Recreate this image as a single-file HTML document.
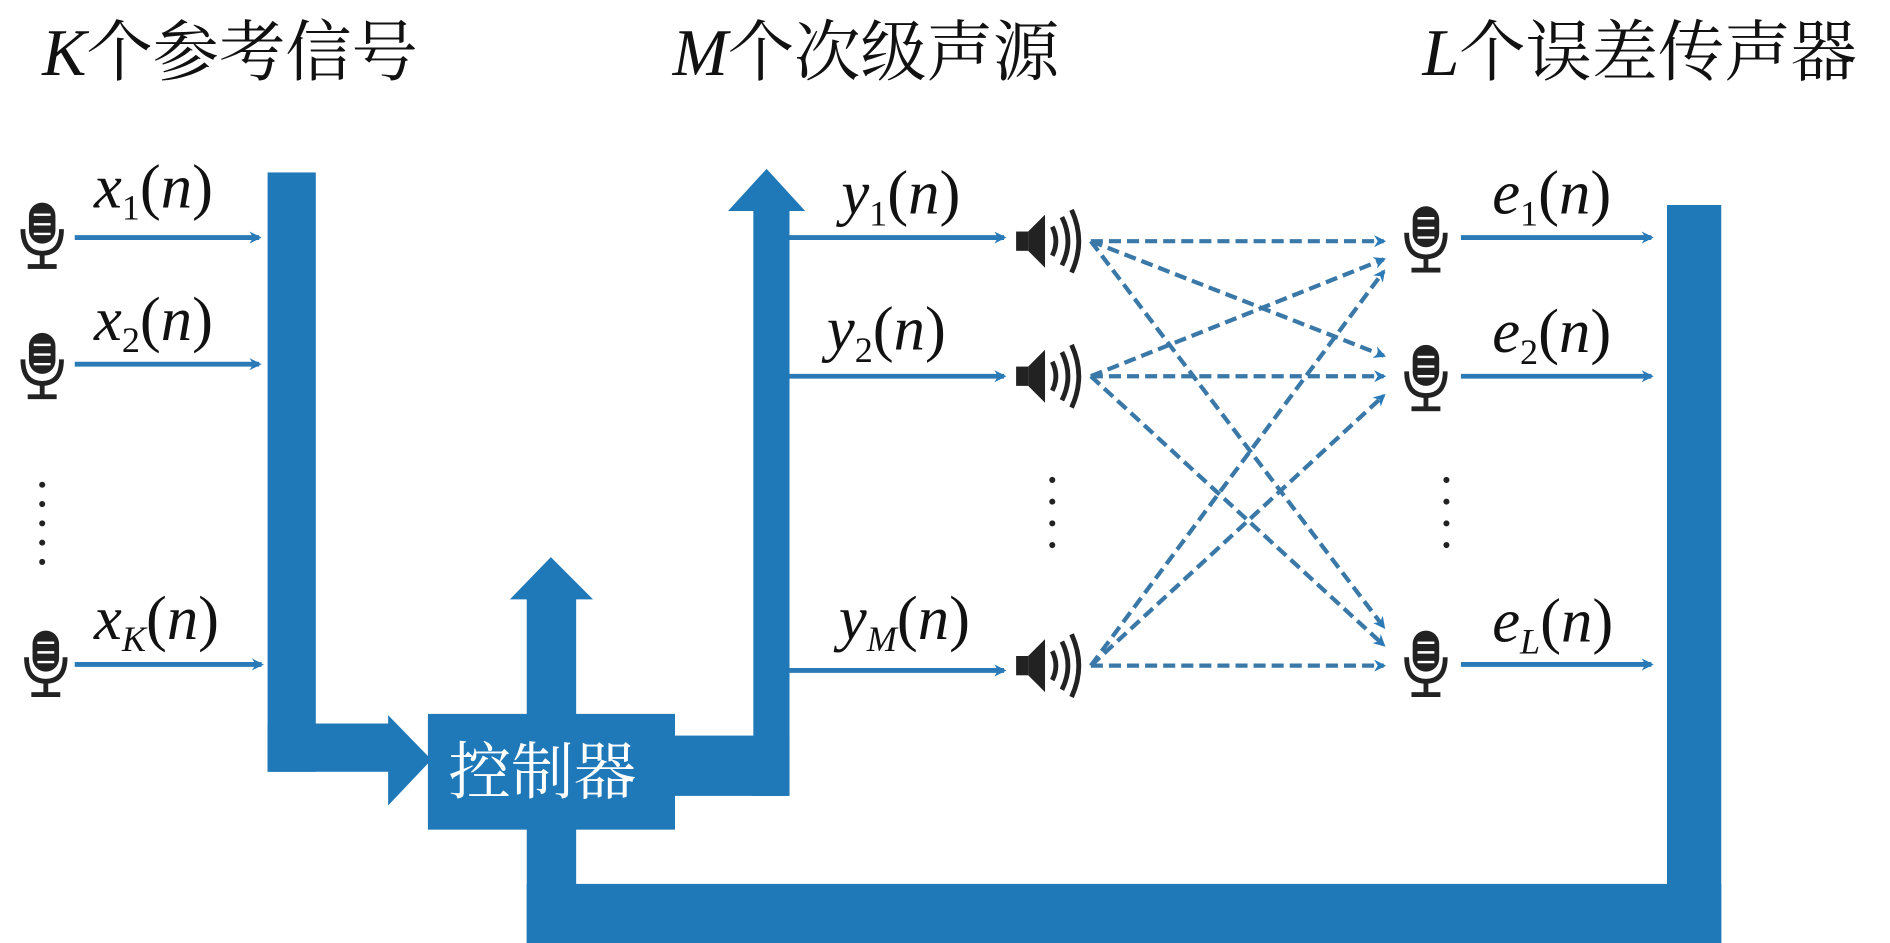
<!DOCTYPE html>
<html><head><meta charset="utf-8"><style>body{margin:0;background:#fff}svg{display:block}</style></head><body>
<svg width="1890" height="943" viewBox="0 0 1568 782" preserveAspectRatio="none" xmlns="http://www.w3.org/2000/svg">
<defs>
<marker id="a" markerWidth="10" markerHeight="10" refX="8" refY="5" orient="auto" markerUnits="userSpaceOnUse"><path d="M0,0 L10,5 L0,10 L3,5 Z" fill="#2a7ab8"/></marker>
<g id="mic"><rect x="-11" y="-22" width="22" height="34" rx="11" fill="#222"/><path d="M-16,0 Q-16,20 0,20 Q16,20 16,0" fill="none" stroke="#222" stroke-width="4"/><rect x="-2" y="20" width="4" height="10" fill="#222"/><rect x="-12" y="29" width="24" height="4" fill="#222"/><path d="M-7,-12 h14 M-7,-4 h14 M-7,4 h14" stroke="#fff" stroke-width="2"/></g>
<g id="spk"><rect x="0" y="-8" width="10" height="16" fill="#222"/><path d="M10,-8 L24,-22 L24,22 L10,8Z" fill="#222"/><path d="M30,-12 Q36,0 30,12 M38,-20 Q48,0 38,20 M46,-26 Q58,0 46,26" fill="none" stroke="#222" stroke-width="4"/></g>
</defs>
<g font-family="Liberation Serif, Noto Serif CJK SC, serif" font-size="55" fill="#111">
<text x="35" y="62"><tspan font-style="italic">K</tspan>个参考信号</text>
<text x="558" y="62"><tspan font-style="italic">M</tspan>个次级声源</text>
<text x="1180" y="62"><tspan font-style="italic">L</tspan>个误差传声器</text>
</g>
<g fill="#1f78b8">
<rect x="222" y="143" width="40" height="497"/>
<rect x="222" y="600" width="105" height="40"/>
<path d="M322,593 L358,630 L322,668Z"/>
<rect x="355" y="592" width="205" height="96"/>
<rect x="437" y="495" width="41" height="287"/>
<path d="M423,497 L457,462 L492,497Z"/>
<rect x="437" y="733" width="991" height="49"/>
<rect x="1383" y="170" width="45" height="612"/>
<rect x="560" y="610" width="95" height="50"/>
<rect x="625" y="172" width="30" height="488"/>
<path d="M604,175 L636,140 L668,175Z"/>
</g>
<text x="372" y="658" font-family="Liberation Serif, Noto Serif CJK SC, serif" font-size="52" fill="#fff">控制器</text>
<g stroke="#2a7ab8" stroke-width="4" marker-end="url(#a)">
<line x1="62" y1="197" x2="215" y2="197"/><line x1="62" y1="302" x2="215" y2="302"/><line x1="62" y1="551" x2="217" y2="551"/>
<line x1="655" y1="197" x2="833" y2="197"/><line x1="655" y1="312" x2="833" y2="312"/><line x1="655" y1="556" x2="833" y2="556"/>
<line x1="1212" y1="197" x2="1370" y2="197"/><line x1="1212" y1="312" x2="1370" y2="312"/><line x1="1212" y1="551" x2="1370" y2="551"/>
</g>
<g stroke="#3a78a8" stroke-width="3.5" stroke-dasharray="10,5" marker-end="url(#a)">
<line x1="905" y1="200" x2="1148" y2="200"/><line x1="905" y1="200" x2="1148" y2="295"/><line x1="905" y1="200" x2="1148" y2="520"/>
<line x1="905" y1="312" x2="1148" y2="215"/><line x1="905" y1="312" x2="1148" y2="312"/><line x1="905" y1="312" x2="1148" y2="535"/>
<line x1="905" y1="552" x2="1148" y2="225"/><line x1="905" y1="552" x2="1148" y2="328"/><line x1="905" y1="552" x2="1148" y2="552"/>
</g>
<use href="#mic" x="35" y="190"/><use href="#mic" x="35" y="298"/><use href="#mic" x="38" y="545"/>
<use href="#mic" x="1183" y="193"/><use href="#mic" x="1183" y="308"/><use href="#mic" x="1183" y="545"/>
<use href="#spk" x="843" y="200"/><use href="#spk" x="843" y="312"/><use href="#spk" x="843" y="552"/>
<g fill="#222"><circle cx="35" cy="402" r="2.5"/><circle cx="35" cy="418" r="2.5"/><circle cx="35" cy="434" r="2.5"/><circle cx="35" cy="450" r="2.5"/><circle cx="35" cy="466" r="2.5"/>
<circle cx="873" cy="398" r="2.5"/><circle cx="873" cy="416" r="2.5"/><circle cx="873" cy="434" r="2.5"/><circle cx="873" cy="452" r="2.5"/>
<circle cx="1200" cy="398" r="2.5"/><circle cx="1200" cy="416" r="2.5"/><circle cx="1200" cy="434" r="2.5"/><circle cx="1200" cy="452" r="2.5"/></g>
<g font-family="Liberation Serif, serif" font-size="52" fill="#111" font-style="italic">
<text x="78" y="172">x<tspan font-size="30" dy="10" font-style="normal">1</tspan><tspan dy="-10" font-style="normal">(</tspan>n<tspan font-style="normal">)</tspan></text>
<text x="78" y="282">x<tspan font-size="30" dy="10" font-style="normal">2</tspan><tspan dy="-10" font-style="normal">(</tspan>n<tspan font-style="normal">)</tspan></text>
<text x="78" y="530">x<tspan font-size="30" dy="10">K</tspan><tspan dy="-10" font-style="normal">(</tspan>n<tspan font-style="normal">)</tspan></text>
<text x="698" y="177">y<tspan font-size="30" dy="10" font-style="normal">1</tspan><tspan dy="-10" font-style="normal">(</tspan>n<tspan font-style="normal">)</tspan></text>
<text x="686" y="290">y<tspan font-size="30" dy="10" font-style="normal">2</tspan><tspan dy="-10" font-style="normal">(</tspan>n<tspan font-style="normal">)</tspan></text>
<text x="696" y="530">y<tspan font-size="30" dy="10">M</tspan><tspan dy="-10" font-style="normal">(</tspan>n<tspan font-style="normal">)</tspan></text>
<text x="1238" y="177">e<tspan font-size="30" dy="10" font-style="normal">1</tspan><tspan dy="-10" font-style="normal">(</tspan>n<tspan font-style="normal">)</tspan></text>
<text x="1238" y="292">e<tspan font-size="30" dy="10" font-style="normal">2</tspan><tspan dy="-10" font-style="normal">(</tspan>n<tspan font-style="normal">)</tspan></text>
<text x="1238" y="532">e<tspan font-size="30" dy="10">L</tspan><tspan dy="-10" font-style="normal">(</tspan>n<tspan font-style="normal">)</tspan></text>
</g>
</svg>
</body></html>
